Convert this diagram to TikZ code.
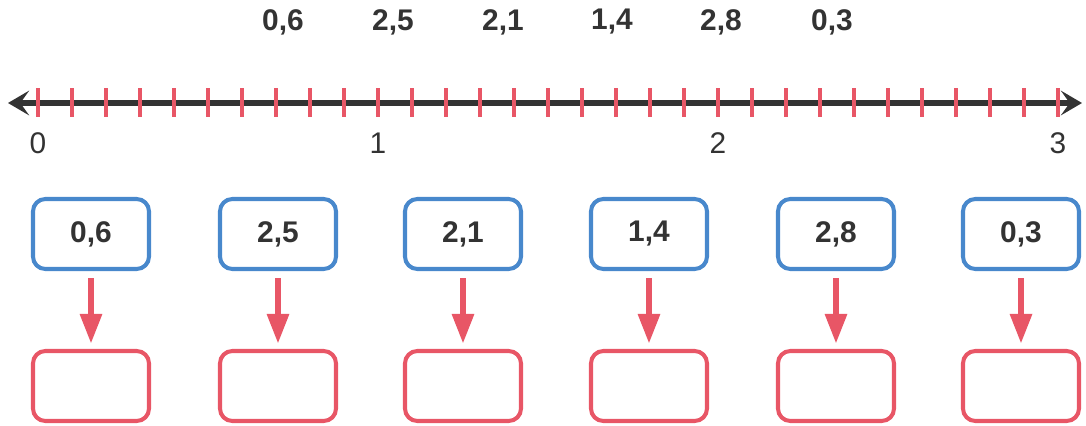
\documentclass[tikz,border=0pt]{standalone}
\usepackage{fontspec}
\setmainfont{Liberation Sans}
\usetikzlibrary{arrows.meta}
\definecolor{linegray}{RGB}{51, 51, 51}
\definecolor{tickred}{RGB}{232, 86, 102}
\definecolor{boxblue}{RGB}{72, 136, 204}

\begin{document}
\begin{tikzpicture}[x=0.02cm, y=-0.02cm,
  valbox/.style={draw=boxblue, line width=2.3pt, rounded corners=7pt, minimum width=2.32cm, minimum height=1.4cm, text=linegray, font=\fontsize{17}{19}\selectfont\bfseries},
  ansbox/.style={draw=tickred, line width=2.3pt, rounded corners=7pt, minimum width=2.32cm, minimum height=1.4cm},
  downarrow/.style={draw=tickred, line width=3.4pt, -{Triangle[length=17pt, width=12pt]}, shorten <=4pt, shorten >=3pt}]
\useasboundingbox (0,0) rectangle (1086,426);

% number line
\coordinate (lineL) at (8,103);
\coordinate (lineR) at (1082,103);
\draw[linegray, line width=3.6pt, {Stealth[length=12pt, width=14pt, inset=5pt]}-{Stealth[length=12pt, width=14pt, inset=5pt]}] (lineL) -- (lineR);
\foreach \k in {0,...,30}
  \draw[tickred, line width=2pt] (38+34*\k, 88) -- (38+34*\k, 117);
\foreach \n in {0,1,2,3}
  \node[text=linegray, font=\fontsize{17}{19}\selectfont] (num\n) at (38+340*\n, 143) {\n};

% numbers and boxes
\foreach \a/\b/\tx/\bx [count=\i] in {0/6/283/91, 2/5/393/278, 2/1/503/463, 1/4/612/649, 2/8/721/836, 0/3/832/1021} {
  \node[text=linegray, font=\fontsize{17}{19}\selectfont\bfseries] (top\i) at (\tx, 22) {\a,\b};
  \node[valbox] (val\i) at (\bx, 234) {\a,\b};
  \node[ansbox] (ans\i) at (\bx, 386) {};
  \draw[downarrow] (val\i) -- (ans\i);
}
\end{tikzpicture}
\end{document}
